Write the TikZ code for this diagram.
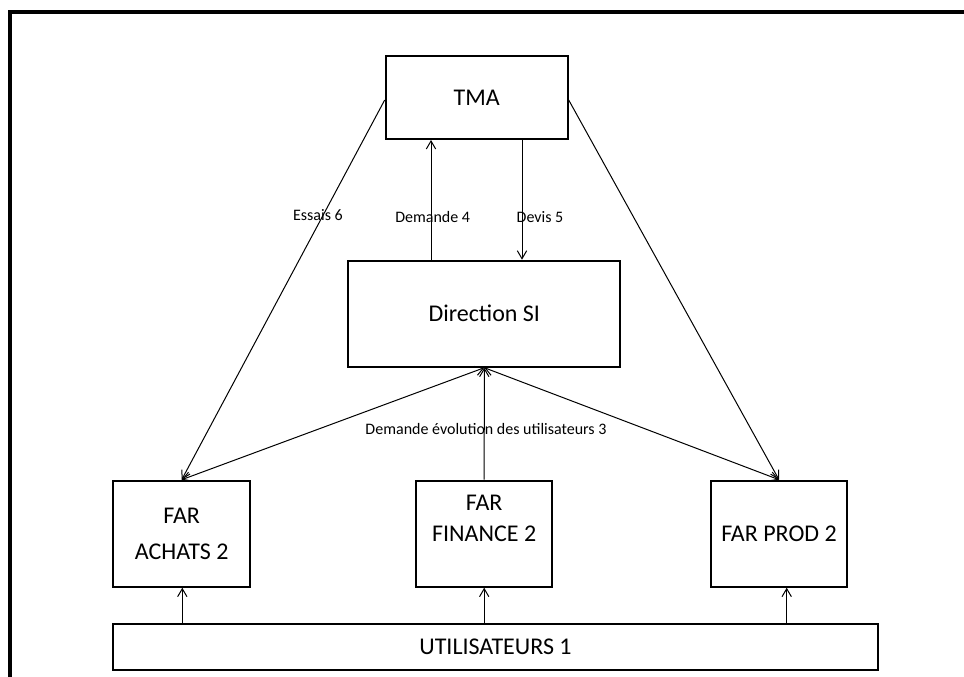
\documentclass[tikz,border=0pt]{standalone}
\usepackage{fontspec}
\setmainfont{Carlito}
\usetikzlibrary{arrows.meta}
\begin{document}
\begin{tikzpicture}[x=0.75pt,y=-0.75pt,
  box/.style={draw=black,line width=1.5pt,rectangle,inner sep=0pt,align=center,
    font=\fontsize{18}{27}\selectfont},
  conn/.style={line width=0.75pt,draw=black},
  tip/.style={-{Straight Barb[length=6pt,width=7pt,line width=0.75pt]}},
  bitip/.style={{Straight Barb[length=6pt,width=7pt,line width=0.75pt]}-{Straight Barb[length=6pt,width=7pt,line width=0.75pt]}},
  lbl/.style={inner sep=0pt,font=\fontsize{12}{14}\selectfont}]
\useasboundingbox (0,0) rectangle (964,676);
\draw[line width=3pt,line join=miter] (10,700) -- (10,12) -- (1000,12);

\node[box,minimum width=182pt*0.75,minimum height=83pt*0.75] (tma) at (476.7,97.5) {TMA};
\node[box,minimum width=272pt*0.75,minimum height=106pt*0.75] (dsi) at (484.3,313.7) {Direction SI};
\node[box,minimum width=136.7pt*0.75,minimum height=106pt*0.75] (achats) at (181.7,533.7) {FAR\\ACHATS 2};
\node[box,minimum width=136.3pt*0.75,minimum height=106pt*0.75,font=\fontsize{18}{23}\selectfont] (fin) at (484.2,533.7) {FAR\\FINANCE 2\\\mbox{}};
\node[box,minimum width=136.7pt*0.75,minimum height=106pt*0.75] (prod) at (779,533.7) {FAR PROD 2};
\node[box,minimum width=764.4pt*0.75,minimum height=45.7pt*0.75] (util) at (495.5,647.2) {UTILISATEURS 1};

\coordinate (d4) at ([xshift=-45.7*0.75pt]tma.south);
\coordinate (d5) at ([xshift=45.3*0.75pt]tma.south);
\coordinate (up1) at ([xshift=0.6*0.75pt]achats.south);
\coordinate (up3) at ([xshift=7.7*0.75pt]prod.south);

\draw[conn,tip] (d4 |- dsi.north) -- (d4);
\draw[conn,tip] (d5) -- (d5 |- dsi.north);
\draw[conn,tip] ([yshift=-2.5*0.75pt]tma.west) -- (achats.north);
\draw[conn,tip] ([yshift=-2.5*0.75pt]tma.east) -- (prod.north);
\draw[conn,bitip] (dsi.south) -- (achats.north);
\draw[conn,bitip] (dsi.south) -- (prod.north);
\draw[conn,tip] (fin.north) -- (dsi.south);
\draw[conn,tip] (util.north -| up1) -- (up1);
\draw[conn,tip] (util.north -| fin.south) -- (fin.south);
\draw[conn,tip] (util.north -| up3) -- (up3);

\node[lbl] (l6) at (318,215) {Essais 6};
\node[lbl] (l4) at (432.7,216.7) {Demande 4};
\node[lbl] (l5) at (540,217) {Devis 5};
\node[lbl] (l3) at (486,429) {Demande évolution des utilisateurs 3};
\end{tikzpicture}
\end{document}
